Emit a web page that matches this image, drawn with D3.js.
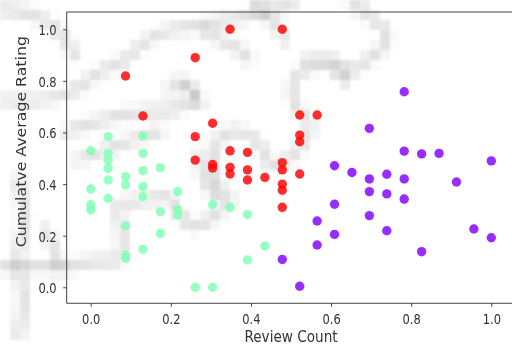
<!DOCTYPE html>
<html>
<head>
<meta charset="utf-8">
<script src="https://cdn.jsdelivr.net/npm/d3@7"></script>
<style>
  html, body { margin: 0; padding: 0; background: #fff; }
  #wrap { position: relative; width: 512px; height: 345px; overflow: hidden; }
  #bg { position: absolute; left: 0; top: 0; filter: blur(1.2px); }
  svg { position: absolute; left: 0; top: 0; }
  text { font-family: "DejaVu Sans", sans-serif; fill: #333; }
</style>
</head>
<body>
<div id="wrap">
  <canvas id="bg" width="512" height="345"></canvas>
  <svg id="chart" width="512" height="345"></svg>
</div>
<script>
// Review counts are normalised counts k/23; ratings are cumulative averages.
const clusterNames = ["low", "mid", "high"];
const clusterColors = ["#80ffb4", "#ff0000", "#8000ff"];

// cluster: mid review count, mixed ratings (green)
const greenCount = [0, 0, 0, 0,
  1, 1, 1, 1, 1, 1,
  2, 2, 2, 2, 2,
  3, 3, 3, 3, 3, 3,
  4, 4, 4,
  5, 5, 5,
  6, 7, 7, 8, 9, 9, 10];
const greenRating = [0.529, 0.381, 0.320, 0.300,
  0.584, 0.519, 0.493, 0.461, 0.416, 0.345,
  0.429, 0.397, 0.238, 0.125, 0.112,
  0.586, 0.519, 0.452, 0.390, 0.351, 0.147,
  0.464, 0.293, 0.209,
  0.371, 0.302, 0.280,
  0.000, 0.000, 0.320, 0.310, 0.282, 0.106, 0.160];

// cluster: higher ratings (red)
const redCount = [2, 3, 6, 6, 6, 7, 7, 7,
  8, 8, 8, 8, 9, 9, 9, 10,
  11, 11, 11, 11, 11, 11,
  12, 12, 12, 12, 13];
const redRating = [0.819, 0.664, 0.890, 0.584, 0.493, 0.636, 0.476, 0.462,
  1.000, 0.529, 0.465, 0.439, 0.523, 0.455, 0.416, 0.426,
  1.000, 0.483, 0.455, 0.400, 0.376, 0.310,
  0.668, 0.590, 0.564, 0.439, 0.668];

// cluster: many reviews (purple)
const purpleCount = [11, 12, 13, 13, 14, 14, 14, 15,
  16, 16, 16, 16, 17, 17, 17,
  18, 18, 18, 18, 19, 19, 20, 21, 22, 23, 23];
const purpleRating = [0.108, 0.004, 0.257, 0.164, 0.471, 0.322, 0.205, 0.445,
  0.616, 0.420, 0.371, 0.278, 0.438, 0.362, 0.219,
  0.758, 0.528, 0.420, 0.342, 0.517, 0.138, 0.519, 0.408, 0.226, 0.490, 0.192];

const countDenominator = 23;
const xTicks = [0.0, 0.2, 0.4, 0.6, 0.8, 1.0];
const yTicks = [0.0, 0.2, 0.4, 0.6, 0.8, 1.0];
const xLabel = "Review Count";
const yLabel = "Cumulatve Average Rating";

// faint strokes of the washed-out backdrop image
const backdropStrokes = [
  [[0,8],[30,14],[55,28],[75,55]],
  [[0,100],[40,100],[70,92],[97,74],[125,60],[145,42],[170,30],[205,24],[232,18],[262,12],[292,4]],
  [[205,32],[232,45],[248,58]],
  [[67,132],[92,124],[130,114],[175,108],[196,98],[188,88],[168,90]],
  [[78,160],[106,150],[132,140],[160,132]],
  [[0,266],[60,266],[92,262],[120,258],[122,230],[118,205],[145,200],[170,198],[180,215],[195,226],[215,215],[230,200],[218,185],[215,160],[222,135],[245,132],[262,148],[270,165],[288,160],[302,145],[310,125],[298,110],[292,90],[300,72],[325,65],[345,72],[365,62],[385,45],[385,30],[368,15],[352,0]],
  [[305,60],[335,60],[345,82]],
  [[18,180],[25,220],[18,260],[24,300],[18,335]],
  [[45,230],[55,250],[60,268]],
  [[200,150],[205,180],[215,195]],
  [[256,5],[275,25],[285,40]],
  [[180,80],[195,95],[200,105]]
];

// ---- backdrop: pixelated grey strokes ----
(function drawBackdrop() {
  const cell = 10;
  const small = document.createElement("canvas");
  small.width = Math.ceil(512 / cell);
  small.height = Math.ceil(345 / cell);
  const sctx = small.getContext("2d");
  sctx.fillStyle = "#fff";
  sctx.fillRect(0, 0, small.width, small.height);
  sctx.scale(1 / cell, 1 / cell);
  sctx.strokeStyle = "rgba(0,0,0,0.115)";
  sctx.lineWidth = 12;
  sctx.lineJoin = "round";
  sctx.lineCap = "round";
  const line = d3.line().curve(d3.curveCatmullRom).context(sctx);
  backdropStrokes.forEach(s => { sctx.beginPath(); line(s); sctx.stroke(); });
  const ctx = document.getElementById("bg").getContext("2d");
  ctx.imageSmoothingEnabled = false;
  ctx.drawImage(small, 0, 0, small.width * cell, small.height * cell);
})();

// ---- chart ----
const svg = d3.select("#chart");
const x = d3.scaleLinear().domain([0, 1]).range([90.7, 491.3]);
const y = d3.scaleLinear().domain([0, 1]).range([287.3, 29.3]);
const xLo = -0.06, xHi = 1.06, yLo = -0.062, yHi = 1.067;

const frame = svg.append("g").attr("stroke", "#444").attr("stroke-width", 1).attr("fill", "none");
frame.append("line").attr("x1", x(xLo)).attr("x2", x(xLo)).attr("y1", y(yLo)).attr("y2", y(yHi));
frame.append("line").attr("x1", x(xLo)).attr("x2", x(xHi)).attr("y1", y(yLo)).attr("y2", y(yLo));
frame.append("line").attr("x1", x(xLo)).attr("x2", x(xHi)).attr("y1", y(yHi)).attr("y2", y(yHi));

const fmt = d3.format(".1f");
const xAxis = svg.append("g").attr("transform", `translate(0,${y(yLo)})`)
  .call(d3.axisBottom(x).tickValues(xTicks).tickFormat(fmt).tickSize(3.5).tickPadding(0));
xAxis.select(".domain").remove();
xAxis.selectAll(".tick line").attr("stroke", "#444");
xAxis.selectAll(".tick text").text(null);
xAxis.selectAll(".tick").append("text")
  .attr("transform", "translate(0,21) scale(1,1.28)")
  .attr("text-anchor", "middle")
  .style("font-size", "11.5px")
  .text(d => fmt(d));

const yAxis = svg.append("g").attr("transform", `translate(${x(xLo)},0)`)
  .call(d3.axisLeft(y).tickValues(yTicks).tickFormat(fmt).tickSize(3.5).tickPadding(0));
yAxis.select(".domain").remove();
yAxis.selectAll(".tick line").attr("stroke", "#444");
yAxis.selectAll(".tick text").text(null);
yAxis.selectAll(".tick").append("text")
  .attr("transform", "translate(-10,5.3) scale(1,1.28)")
  .attr("text-anchor", "end")
  .style("font-size", "11.5px")
  .text(d => fmt(d));

svg.append("text")
  .attr("transform", `translate(${x(0.5)},342) scale(1,1.16)`)
  .attr("text-anchor", "middle")
  .style("font-size", "13.6px")
  .text(xLabel);

svg.append("text")
  .attr("transform", `translate(26,${(y(yLo) + y(yHi)) / 2 - 16}) scale(1,1.16) rotate(-90)`)
  .attr("text-anchor", "middle")
  .style("font-size", "13.6px")
  .text(yLabel);

// ---- points ----
const clusters = [
  { name: clusterNames[0], color: clusterColors[0], counts: greenCount, ratings: greenRating },
  { name: clusterNames[1], color: clusterColors[1], counts: redCount, ratings: redRating },
  { name: clusterNames[2], color: clusterColors[2], counts: purpleCount, ratings: purpleRating }
];
const pts = svg.append("g");
clusters.forEach(c => {
  const rows = c.counts.map((k, i) => ({ xv: k / countDenominator, yv: c.ratings[i] }));
  pts.append("g").attr("class", "cluster-" + c.name)
    .selectAll("circle").data(rows).join("circle")
    .attr("cx", d => x(d.xv))
    .attr("cy", d => y(d.yv))
    .attr("r", 4.7)
    .attr("fill", c.color)
    .attr("fill-opacity", 0.82);
});
</script>
</body>
</html>
